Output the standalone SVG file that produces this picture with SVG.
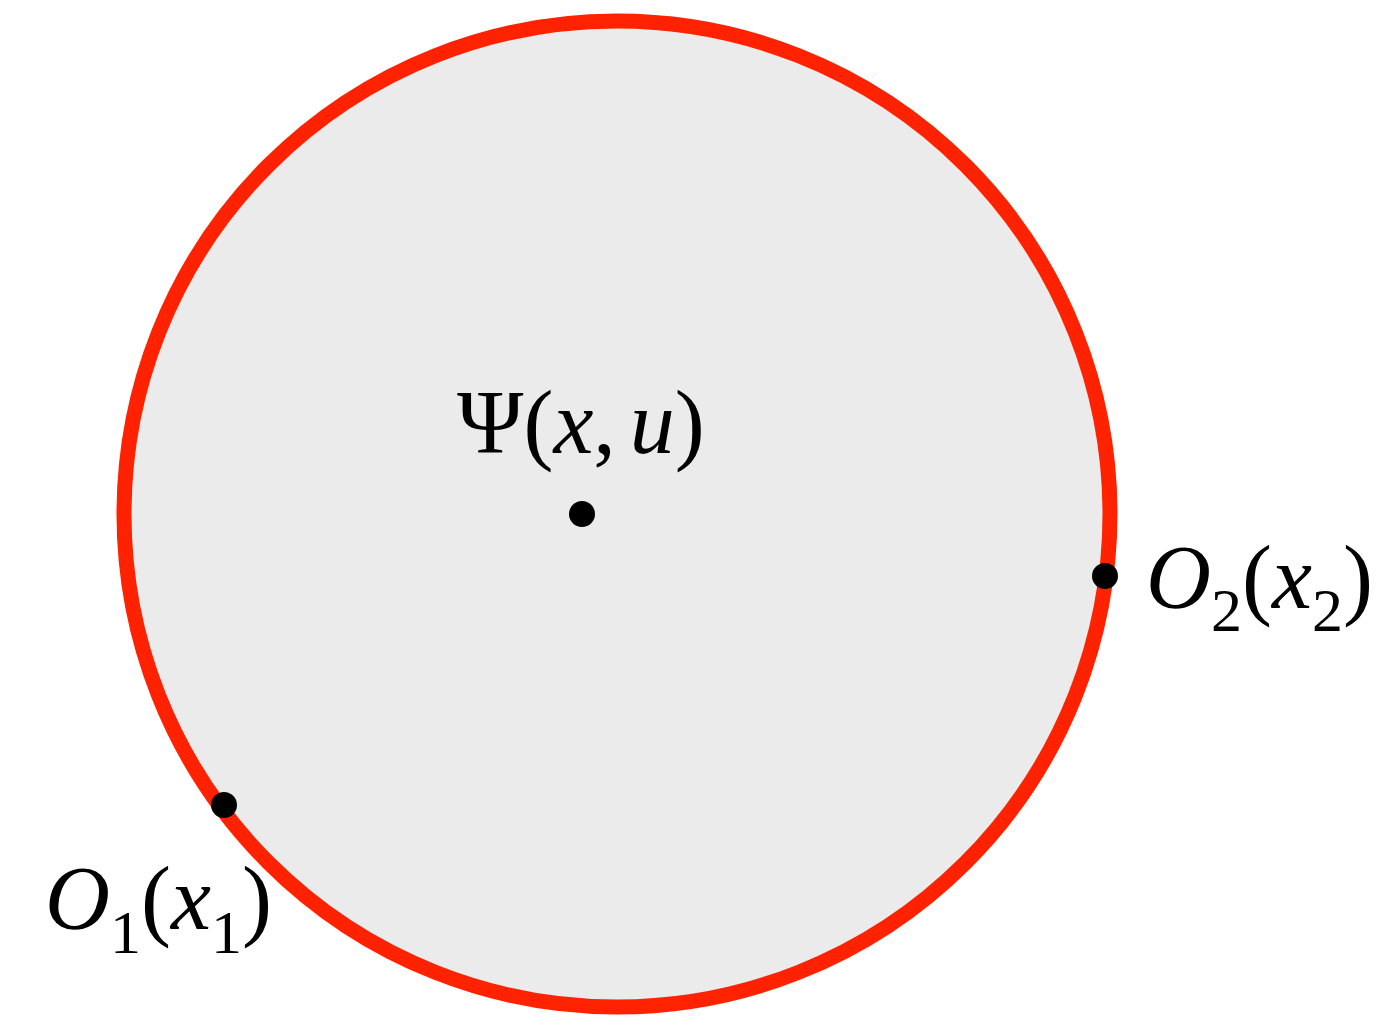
<svg xmlns="http://www.w3.org/2000/svg" width="1389" height="1016" viewBox="0 0 1389 1016">
<style>
.t{font-family:"Liberation Serif","Times New Roman",serif;font-size:90px;fill:#000}
.i{font-style:italic}
.s{font-size:62px}
.dot{fill:#000}
</style>
<rect width="1389" height="1016" fill="#fff"/>
<g id="region">
<circle cx="617" cy="514" r="493" fill="#EBEBEB" stroke="#FF2200" stroke-width="15"/>
</g>
<g id="psi">
<circle class="dot" cx="582" cy="514" r="13"/>
<text class="t" x="457" y="453">Ψ(<tspan class="i">x</tspan>,<tspan class="i" dx="14">u</tspan>)</text>
</g>
<g id="o2">
<circle class="dot" cx="1105" cy="576" r="13"/>
<text class="t" x="1146" y="608"><tspan class="i">O</tspan><tspan class="s" y="631">2</tspan><tspan y="608">(</tspan><tspan class="i">x</tspan><tspan class="s" y="631">2</tspan><tspan y="608">)</tspan></text>
</g>
<g id="o1">
<circle class="dot" cx="224" cy="805" r="13"/>
<text class="t" x="45" y="929"><tspan class="i">O</tspan><tspan class="s" y="953">1</tspan><tspan y="929">(</tspan><tspan class="i">x</tspan><tspan class="s" y="953">1</tspan><tspan y="929">)</tspan></text>
</g>
</svg>
